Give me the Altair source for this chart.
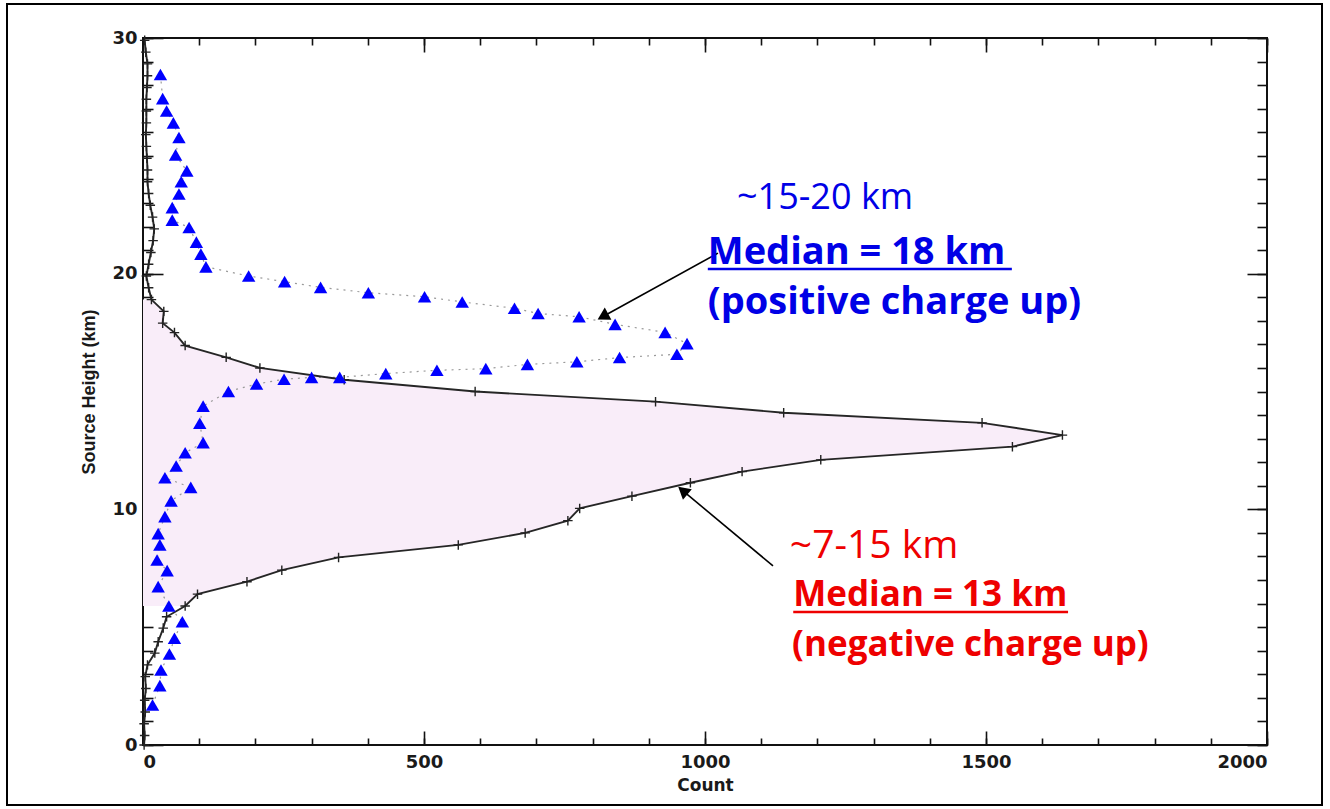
import math
import altair as alt
import pandas as pd

# ---- negative-charge source profile (black line with "+" markers) ----
neg_height = [0.0, 0.4, 0.9, 1.4, 1.9, 2.4, 2.9, 3.4, 3.9, 4.38,
              4.96, 5.44, 5.9, 6.4, 6.93, 7.42, 7.96, 8.49, 9.0, 9.52,
              10.04, 10.56, 11.13, 11.6, 12.1, 12.66, 13.15, 13.67, 14.1, 14.57,
              15.0, 15.5, 16.0, 16.45, 16.95, 17.5, 17.9, 18.4, 18.9, 19.4,
              19.9, 20.4, 20.9, 21.4, 21.9, 22.4, 22.9, 23.4, 23.9, 24.4,
              24.9, 25.4, 25.9, 26.4, 26.9, 27.4, 27.9, 28.4, 28.9, 29.4, 29.9]
neg_count = [2, 3, 2, 4, 3, 5, 4, 8, 21, 27,
             36, 42, 75, 97, 185, 247, 348, 561, 680, 756,
             777, 870, 974, 1066, 1206, 1547, 1636, 1493, 1140, 912,
             591, 358, 208, 148, 75, 56, 35, 37, 15, 10,
             6, 10, 14, 18, 20, 17, 13, 10, 8, 8,
             7, 6, 5, 6, 6, 6, 7, 8, 8, 5, 3]

# ---- positive-charge source profile (blue triangles), top to bottom ----
pos_height = [28.45, 27.43, 26.9, 26.4, 25.78, 25.04, 24.36, 23.9, 23.38, 22.8,
              22.27, 21.96, 21.34, 20.83, 20.29, 19.9, 19.66, 19.42, 19.19, 19.02,
              18.8, 18.53, 18.31, 18.17, 17.85, 17.51, 17.03, 16.58, 16.44, 16.26,
              16.15, 15.97, 15.9, 15.76, 15.6, 15.6, 15.52, 15.32, 15.0, 14.38,
              13.65, 12.83, 12.4, 11.84, 11.34, 10.93, 10.36, 9.69, 8.97, 8.49,
              7.85, 7.4, 6.72, 5.9, 5.23, 4.53, 3.86, 3.18, 2.52, 1.7]
pos_count = [31, 35, 42, 54, 64, 58, 78, 68, 64, 52,
             52, 82, 95, 103, 112, 188, 252, 316, 401, 501,
             568, 661, 703, 776, 840, 929, 968, 950, 848, 772,
             684, 610, 523, 432, 350, 300, 251, 202, 152, 107,
             101, 107, 75, 59, 39, 85, 50, 39, 27, 30,
             25, 43, 27, 46, 70, 56, 47, 32, 30, 17]

# ---- axis ticks ----
x_major = [0, 500, 1000, 1500, 2000]
x_minor = [0, 100, 200, 300, 400, 500, 600, 700, 800, 900, 1000,
           1100, 1200, 1300, 1400, 1500, 1600, 1700, 1800, 1900, 2000]
y_major = [0, 10, 20, 30]
y_minor = [0, 1, 2, 3, 4, 5, 6, 7, 8, 9, 10, 11, 12, 13, 14, 15,
           16, 17, 18, 19, 20, 21, 22, 23, 24, 25, 26, 27, 28, 29, 30]

# ---- annotations ----
blue_text = ["~15-20 km", "Median = 18 km", "(positive charge up)"]
blue_text_count = [1057, 1005, 1005]
blue_text_height = [22.74, 20.41, 18.29]
red_text = ["~7-15 km", "Median = 13 km", "(negative charge up)"]
red_text_count = [1151, 1157, 1155]
red_text_height = [7.93, 5.90, 3.78]
underline_count = [1005, 1157]
underline_count2 = [1546, 1646]
underline_height = [20.20, 5.64]
underline_color = ["#0000e6", "#ee0000"]
arrow_tail_count = [1023, 1121]
arrow_tail_height = [20.87, 7.60]
arrow_head_count = [812, 955]
arrow_head_height = [18.10, 10.90]

W, H = 1124, 707
X_MAX, Y_MAX = 2000, 30
px_x = W / X_MAX
px_y = H / Y_MAX

xs = alt.Scale(domain=[0, X_MAX], nice=False, zero=False)
ys = alt.Scale(domain=[0, Y_MAX], nice=False, zero=False)

neg = pd.DataFrame({"count": neg_count, "height": neg_height})
pos = pd.DataFrame({"count": pos_count, "height": pos_height,
                    "idx": list(range(len(pos_count)))})
fill = neg[(neg["height"] >= 5.9) & (neg["height"] <= 18.9)].reset_index(drop=True)

# arrowheads sit just behind the tip, rotated along the shaft
heads = []
for tc, th, hc, hh in zip(arrow_tail_count, arrow_tail_height,
                          arrow_head_count, arrow_head_height):
    dx = (hc - tc) * px_x
    dy = -(hh - th) * px_y
    L = math.hypot(dx, dy)
    back = 6.0
    cx = hc - dx / L * back / px_x
    cy = hh + dy / L * back / px_y
    ang = math.degrees(math.atan2(dx, -dy)) % 360
    heads.append({"count": cx, "height": cy, "angle": ang})
arrows = pd.DataFrame({"count": arrow_tail_count, "height": arrow_tail_height,
                       "count2": arrow_head_count, "height2": arrow_head_height})
heads = pd.DataFrame(heads)
ulines = pd.DataFrame({"count": underline_count, "count2": underline_count2,
                       "height": underline_height, "color": underline_color})
blue_df = pd.DataFrame({"count": blue_text_count, "height": blue_text_height,
                        "text": blue_text})
red_df = pd.DataFrame({"count": red_text_count, "height": red_text_height,
                       "text": red_text})


def X(field="count", **kw):
    return alt.X(f"{field}:Q", scale=xs, axis=None, **kw)


def Y(field="height", **kw):
    return alt.Y(f"{field}:Q", scale=ys, axis=None, **kw)


# shaded region between the negative profile and the height axis
area = alt.Chart(fill).mark_area(
    orient="horizontal", fill="#f9edf9", fillOpacity=1, opacity=1).encode(
    x=X(), y=Y())

neg_line = alt.Chart(neg).mark_line(color="#262626", strokeWidth=1.9).encode(
    x=X(), y=Y(), order=alt.Order("height:Q"))

neg_cross = alt.Chart(neg).mark_point(
    shape="M-1,0H1M0,-1V1", size=90, filled=False, color="#222222",
    strokeWidth=1.4, opacity=1).encode(x=X(), y=Y())

pos_line = alt.Chart(pos).mark_line(
    color="#9a9a9a", strokeWidth=1.2, strokeDash=[2, 5]).encode(
    x=X(), y=Y(), order=alt.Order("idx:Q"))

pos_tri = alt.Chart(pos).mark_point(
    shape="triangle-up", size=180, filled=True, color="#0000ff",
    opacity=1).encode(x=X(), y=Y())

arrow_lines = alt.Chart(arrows).mark_rule(color="black", strokeWidth=1.6).encode(
    x=X(), x2="count2:Q", y=Y(), y2="height2:Q")

arrow_heads = alt.Chart(heads).mark_point(
    shape="triangle", size=190, filled=True, color="black", opacity=1).encode(
    x=X(), y=Y(), angle=alt.Angle("angle:Q", scale=None))

underlines = alt.Chart(ulines).mark_rule(strokeWidth=2.5).encode(
    x=X(), x2="count2:Q", y=Y(), color=alt.Color("color:N", scale=None))

txt_style = dict(align="left", baseline="alphabetic", font="Open Sans")
blue_first = alt.Chart(blue_df.iloc[:1]).mark_text(
    color="#0000e6", fontWeight="normal", fontSize=36, **txt_style).encode(
    x=X(), y=Y(), text="text:N")
blue_rest = alt.Chart(blue_df.iloc[1:]).mark_text(
    color="#0000e6", fontWeight="bold", fontSize=38, **txt_style).encode(
    x=X(), y=Y(), text="text:N")
red_first = alt.Chart(red_df.iloc[:1]).mark_text(
    color="#ee0000", fontWeight="normal", fontSize=39, **txt_style).encode(
    x=X(), y=Y(), text="text:N")
red_rest = alt.Chart(red_df.iloc[1:]).mark_text(
    color="#ee0000", fontWeight="bold", fontSize=35, **txt_style).encode(
    x=X(), y=Y(), text="text:N")

# ---- axes: labels/titles, then inward-pointing minor and major ticks ----
anchor = pd.DataFrame({"count": [0], "height": [0]})
lab_font = "DejaVu Sans"


def axis_layer(x_axis, y_axis):
    return alt.Chart(anchor).mark_point(opacity=0).encode(
        x=alt.X("count:Q", scale=xs, axis=x_axis),
        y=alt.Y("height:Q", scale=ys, axis=y_axis))


def tick_axis(orient, values, size):
    return alt.Axis(orient=orient, values=values, labels=False, domain=False,
                    grid=False, ticks=True, tickSize=size, offset=-size,
                    tickColor="#111111", tickWidth=1.6, title=None)


labels_layer = axis_layer(
    alt.Axis(orient="bottom", values=x_major, format="d", ticks=False,
             domain=False, grid=False, labelFont=lab_font,
             labelFontWeight="bold", labelFontSize=18, labelColor="#1a1a1a",
             labelPadding=8, title="Count", titleFont=lab_font,
             titleFontWeight="bold", titleFontSize=17, titleColor="#1a1a1a",
             titlePadding=6),
    alt.Axis(orient="left", values=y_major, format="d", ticks=False,
             domain=False, grid=False, labelFont=lab_font,
             labelFontWeight="bold", labelFontSize=18, labelColor="#1a1a1a",
             labelPadding=6, title="Source Height (km)",
             titleFont="Liberation Sans", titleFontWeight="bold",
             titleFontSize=18, titleColor="#1a1a1a", titlePadding=13))
ticks_bl_minor = axis_layer(tick_axis("bottom", x_minor, 7),
                            tick_axis("left", y_minor, 10))
ticks_bl_major = axis_layer(tick_axis("bottom", x_major, 14),
                            tick_axis("left", y_major, 20))
ticks_tr_minor = axis_layer(tick_axis("top", x_minor, 7),
                            tick_axis("right", y_minor, 10))
ticks_tr_major = axis_layer(tick_axis("top", x_major, 14),
                            tick_axis("right", y_major, 20))

# outer frame around the whole figure
frame = alt.Chart(anchor).mark_rect(
    filled=False, stroke="black", strokeWidth=2).encode(
    x=alt.value(-136), x2=alt.value(1179), y=alt.value(-34), y2=alt.value(767))

chart = alt.layer(
    area, pos_line, neg_line, neg_cross, pos_tri,
    arrow_lines, arrow_heads, underlines,
    blue_first, blue_rest, red_first, red_rest,
    labels_layer, ticks_bl_minor, ticks_bl_major, ticks_tr_minor, ticks_tr_major,
    frame,
).resolve_axis(x="independent", y="independent").properties(
    width=W, height=H,
    padding={"left": 143, "top": 38, "right": 63, "bottom": 64},
    autosize=alt.AutoSizeParams(type="none"),
    background="white",
).configure_view(stroke="#111111", strokeWidth=2)

chart.save("out.html", embed_options={"renderer": "svg", "actions": False})
